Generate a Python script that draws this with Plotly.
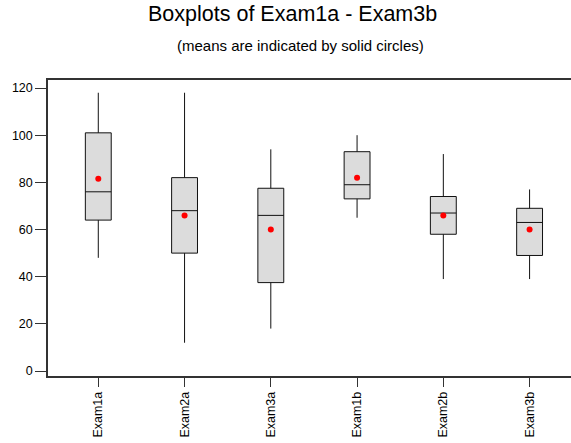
import plotly.graph_objects as go

categories = ["Exam1a", "Exam2a", "Exam3a", "Exam1b", "Exam2b", "Exam3b"]
lower_whisker = [48, 12, 18, 65, 39, 39]
q1_values = [64, 50, 37.5, 73, 58, 49]
median_values = [76, 68, 66, 79, 67, 63]
q3_values = [101, 82, 77.5, 93, 74, 69]
upper_whisker = [118, 118, 94, 100, 92, 77]
mean_values = [81.5, 66, 60, 82, 66, 60]
y_ticks = [0, 20, 40, 60, 80, 100, 120]

FONT = "Liberation Sans, Arial, sans-serif"

fig = go.Figure()
fig.add_trace(go.Box(
    x=categories,
    q1=q1_values, median=median_values, q3=q3_values,
    lowerfence=lower_whisker, upperfence=upper_whisker,
    width=0.3, whiskerwidth=0,
    fillcolor="#DCDCDC",
    line=dict(color="#111111", width=1),
    boxpoints=False,
    showlegend=False,
    hoverinfo="skip",
))
fig.add_trace(go.Scatter(
    x=categories, y=mean_values, mode="markers",
    marker=dict(color="#FF0000", size=6),
    showlegend=False,
))

W, H = 571, 443
ml, mr, mt, mb = 48, 0, 80, 67
ph = H - mt - mb
pw = W - ml - mr

def py(pix):
    return 1 + (mt - pix) / ph

def px(pix):
    return (pix - ml) / pw

fig.add_annotation(text="Boxplots of Exam1a - Exam3b", xref="paper", yref="paper",
                   x=px(292), y=py(14), xanchor="center", yanchor="middle",
                   showarrow=False, font=dict(family=FONT, size=21.5, color="black"))
fig.add_annotation(text="(means are indicated by solid circles)", xref="paper", yref="paper",
                   x=px(300), y=py(46), xanchor="center", yanchor="middle",
                   showarrow=False, font=dict(family=FONT, size=15, color="black"))

fig.update_layout(
    width=W, height=H,
    margin=dict(l=ml, r=mr, t=mt, b=mb, autoexpand=False),
    paper_bgcolor="white", plot_bgcolor="white",
    font=dict(family=FONT, size=12.5, color="black"),
    xaxis=dict(
        type="category", range=[-0.583, 5.48], automargin=False,
        showgrid=False, zeroline=False,
        showline=True, linecolor="#333333", linewidth=1.5, mirror=True,
        ticks="outside", ticklen=9, tickcolor="#333333", tickwidth=1,
        tickangle=-90, tickfont=dict(family=FONT, size=12.5),
    ),
    yaxis=dict(
        range=[-2.1, 123.4], tickvals=y_ticks, automargin=False,
        showgrid=False, zeroline=False,
        showline=True, linecolor="#333333", linewidth=1.5,
        ticks="outside", ticklen=11, tickcolor="#333333", tickwidth=1,
        tickfont=dict(family=FONT, size=12.5),
    ),
)

fig.write_html("out.html", config={"displayModeBar": False},
               post_script="document.body.style.margin='0';document.body.style.padding='0';document.body.style.overflow='hidden';")
